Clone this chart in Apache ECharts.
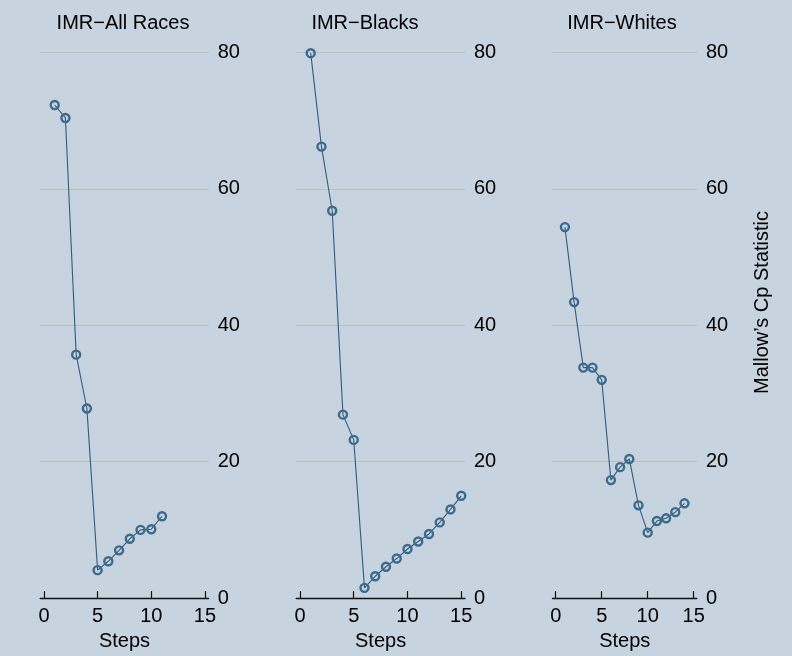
<!DOCTYPE html>
<html>
<head>
<meta charset="utf-8">
<script src="https://cdn.jsdelivr.net/npm/echarts@6/dist/echarts.min.js"></script>
<style>
html,body{margin:0;padding:0;background:#c7d3df;}
#chart{width:792px;height:656px;}
</style>
</head>
<body>
<div id="chart"></div>
<script>
// Data
const panelTitles = ['IMR\u2212All Races', 'IMR\u2212Blacks', 'IMR\u2212Whites'];
const allRacesSteps = [1,2,3,4,5,6,7,8,9,10,11];
const allRacesCp = [72.3, 70.4, 35.7, 27.8, 4.1, 5.4, 7.0, 8.7, 10.0, 10.1, 12.0];
const blacksSteps = [1,2,3,4,5,6,7,8,9,10,11,12,13,14,15];
const blacksCp = [79.9, 66.2, 56.8, 26.9, 23.2, 1.5, 3.2, 4.6, 5.8, 7.2, 8.3, 9.4, 11.1, 13.0, 15.0];
const whitesSteps = [1,2,3,4,5,6,7,8,9,10,11,12,13,14];
const whitesCp = [54.4, 43.4, 33.8, 33.8, 32.0, 17.3, 19.2, 20.4, 13.6, 9.6, 11.3, 11.7, 12.6, 13.9];
const xTickValues = [0, 5, 10, 15];
const yTickValues = [0, 20, 40, 60, 80];
const xAxisTitle = 'Steps';
const yAxisTitle = 'Mallow\u2019s Cp Statistic';

const seriesData = [
  allRacesSteps.map((s, i) => [s, allRacesCp[i]]),
  blacksSteps.map((s, i) => [s, blacksCp[i]]),
  whitesSteps.map((s, i) => [s, whitesCp[i]])
];

const fontFam = 'Liberation Sans, Arial, Helvetica, sans-serif';
const fs = 20;
const gridColor = '#bdbfba';
const lineColor = '#2f5d80';
const markColor = '#3d6a8c';

// layout (pixels)
const gridBoxes = [
  {left: 40.2, width: 168.5},
  {left: 296.2, width: 168.8},
  {left: 552.5, width: 144.4}
];
const gridTop = 52.5, gridHeight = 550;
const titleX = [123, 365, 622];

const option = {
  backgroundColor: '#c7d3df',
  animation: false,
  grid: gridBoxes.map(g => ({left: g.left, width: g.width, top: gridTop, height: gridHeight, containLabel: false})),
  xAxis: gridBoxes.map((g, i) => ({
    type: 'value', gridIndex: i, min: -0.35, max: 15.35,
    offset: 3,
    axisLine: {show: true, lineStyle: {color: '#111', width: 1.3}},
    axisTick: {show: true, inside: true, length: 7, customValues: xTickValues, lineStyle: {color: '#111', width: 1.2}},
    axisLabel: {show: true, customValues: xTickValues, color: '#000', fontSize: fs, fontFamily: fontFam, margin: 5},
    splitLine: {show: false},
    name: xAxisTitle, nameLocation: 'middle', nameGap: 26,
    nameTextStyle: {color: '#000', fontSize: fs, fontFamily: fontFam}
  })),
  yAxis: gridBoxes.map((g, i) => ({
    type: 'value', gridIndex: i, min: 0, max: 80, interval: 20, position: 'right',
    axisLine: {show: false}, axisTick: {show: false},
    axisLabel: {show: true, color: '#000', fontSize: fs, fontFamily: fontFam, margin: 9},
    splitLine: {show: true, lineStyle: {color: ['transparent', gridColor, gridColor, gridColor, gridColor], width: 1}}
  })),
  graphic: panelTitles.map((t, i) => ({
    type: 'text', x: titleX[i], y: 23,
    style: {text: t, fill: '#000', font: fs + 'px ' + fontFam, textAlign: 'center', textVerticalAlign: 'middle'}
  })).concat([{
    type: 'text', x: 762.5, y: 302.5, rotation: Math.PI / 2,
    style: {text: yAxisTitle, fill: '#000', font: fs + 'px ' + fontFam, textAlign: 'center', textVerticalAlign: 'middle'}
  }]),
  series: seriesData.map((d, i) => ({
    type: 'line', xAxisIndex: i, yAxisIndex: i, data: d,
    symbol: 'circle', symbolSize: 8, showAllSymbol: true,
    lineStyle: {color: lineColor, width: 1.1},
    itemStyle: {color: 'rgba(0,0,0,0)', borderColor: markColor, borderWidth: 2.4}
  }))
};

const chart = echarts.init(document.getElementById('chart'), null, {renderer: 'canvas'});
chart.setOption(option);
</script>
</body>
</html>
